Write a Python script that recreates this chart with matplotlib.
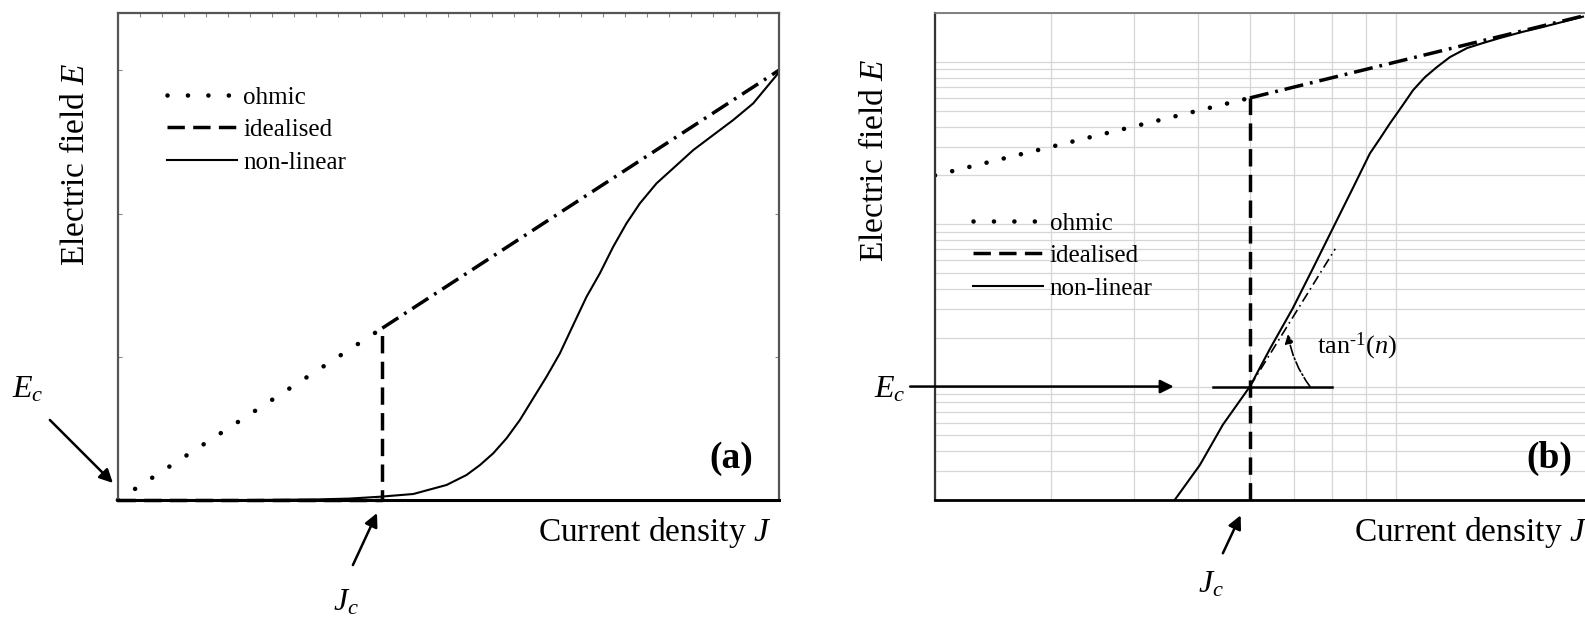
import numpy as np
import matplotlib
matplotlib.use("Agg")
import matplotlib.pyplot as plt
from matplotlib import ticker

plt.rcParams['font.family'] = ['Liberation Serif', 'DejaVu Serif']
plt.rcParams['mathtext.fontset'] = 'custom'
plt.rcParams['mathtext.rm'] = 'Liberation Serif'
plt.rcParams['mathtext.it'] = 'Liberation Serif:italic'
plt.rcParams['mathtext.bf'] = 'Liberation Serif:bold'

# ---- panel (a): linear axes ----
ohm_j_a = [0.0, 4.0]
ohm_e_a = [0.0, 1.2]
ohm_hi_j_a = [4.0, 10.0]
ohm_hi_e_a = [1.2, 3.0]
ideal_j_a = [0.0, 4.0, 4.0]
ideal_e_a = [0.0, 0.0, 1.2]
nl_j_a = [0.0, 1.0, 2.0, 3.0, 3.5, 3.964, 4.468, 4.972, 5.275, 5.477, 5.678,
          5.880, 6.082, 6.283, 6.485, 6.687, 6.888, 7.090, 7.292, 7.493, 7.695,
          7.897, 8.149, 8.401, 8.704, 9.006, 9.309, 9.611, 9.989]
nl_e_a = [0.0, 0.0, 0.0, 0.004, 0.01, 0.023, 0.042, 0.105, 0.175, 0.244, 0.326,
          0.431, 0.559, 0.710, 0.861, 1.024, 1.222, 1.419, 1.583, 1.768, 1.932,
          2.071, 2.211, 2.316, 2.443, 2.548, 2.653, 2.769, 2.979]

# ---- panel (b): log-log axes ----
ohm_j_b = [2.0, 6.0]
ohm_e_b = [20.0, 60.0]
ohm_hi_j_b = [6.0, 20.0]
ohm_hi_e_b = [60.0, 200.0]
ideal_j_b = [6.0, 6.0]
ideal_e_b = [0.2, 60.0]
nl_j_b = [4.59, 5.04, 5.46, 6.0, 6.44, 6.97, 7.48, 8.02, 8.60, 9.12, 9.45, 9.78,
          10.20, 10.60, 11.05, 11.52, 12.06, 12.80, 13.53, 14.36, 15.51, 16.68,
          19.18]
nl_e_b = [0.194, 0.329, 0.582, 1.0, 1.718, 3.04, 5.37, 9.50, 16.8, 27.3, 33.8,
          41.8, 53.3, 66.9, 80.5, 92.9, 107.1, 121.7, 130.7, 140.4, 152.9, 164.2,
          190.0]
ec_line_j = [5.27, 8.0]
ec_line_e = [1.0, 1.0]
tan_j = [6.0, 8.08]
tan_e = [1.0, 7.05]

labels = ['ohmic', 'idealised', 'non-linear']

DOT = dict(color='k', lw=3.3, linestyle=(0, (0.01, 4.45)), dash_capstyle='round')
DOT_B = dict(color='k', lw=3.3, linestyle=(0, (0.01, 3.85)), dash_capstyle='round')
DASH = dict(color='k', lw=2.5, linestyle=(0, (5.0, 2.4)))
DASHDOT = dict(color='k', lw=2.5, linestyle=(0, (5.5, 2.0, 0.8, 2.0)))
SOLID = dict(color='k', lw=1.5)
ARROW = dict(arrowstyle='-|>', color='k', lw=1.8, mutation_scale=20,
             shrinkA=0, shrinkB=0)

fig = plt.figure(figsize=(15.85, 6.18), dpi=100)
ax_a = fig.add_axes([0.0744, 0.1909, 0.417, 0.788])
ax_b = fig.add_axes([0.5899, 0.1909, 0.4164, 0.788])

# panel (a)
h_ohm, = ax_a.plot(ohm_j_a, ohm_e_a, clip_on=False, **DOT)
ax_a.plot(ohm_hi_j_a, ohm_hi_e_a, clip_on=False, **DASHDOT)
h_ideal, = ax_a.plot(ideal_j_a, ideal_e_a, clip_on=False, **DASH)
h_nl, = ax_a.plot(nl_j_a, nl_e_a, clip_on=False, **SOLID)
ax_a.set_xlim(0, 10)
ax_a.set_ylim(0, 3.4)
ax_a.xaxis.set_ticks_position('top')
ax_a.xaxis.set_major_locator(ticker.MultipleLocator(1 / 3))
ax_a.set_yticks([1, 2, 3])
ax_a.tick_params(direction='in', length=3, width=0.8, color='#888888',
                 top=True, bottom=False, left=True, right=True,
                 labeltop=False, labelbottom=False, labelleft=False)
for s in ['left', 'top', 'right']:
    ax_a.spines[s].set_color('#555555')
    ax_a.spines[s].set_linewidth(1.6)
ax_a.spines['bottom'].set_color('k')
ax_a.spines['bottom'].set_linewidth(2.2)

ax_a.legend([h_ohm, h_ideal, h_nl], labels, loc='upper left',
            bbox_to_anchor=(0.074, 0.85), frameon=False, fontsize=18,
            handlelength=2.8, handletextpad=0.25, labelspacing=0.4,
            borderpad=0, borderaxespad=0)
ax_a.text(-0.0635, 0.69, 'Electric field $E$', rotation=90, fontsize=24,
          ha='center', va='center', transform=ax_a.transAxes)
ax_a.text(0.988, -0.084, 'Current density $J$', fontsize=24,
          ha='right', va='baseline', transform=ax_a.transAxes)
ax_a.text(0.961, 0.086, '(a)', fontsize=27, fontweight='bold',
          ha='right', va='center', transform=ax_a.transAxes)
ax_a.text(-1.60, 0.719, '$E_c$', fontsize=23, ha='left', va='baseline')
ax_a.text(3.25, -0.768, '$J_c$', fontsize=23, ha='left', va='baseline')
ax_a.annotate('', xy=(-0.076, 0.119), xytext=(-1.03, 0.559),
              arrowprops=ARROW, annotation_clip=False)
ax_a.annotate('', xy=(3.92, -0.091), xytext=(3.555, -0.454),
              arrowprops=ARROW, annotation_clip=False)

# panel (b)
ax_b.set_xscale('log')
ax_b.set_yscale('log')
ax_b.set_xlim(2, 20)
ax_b.set_ylim(0.2, 200)
sub = np.arange(2, 10)
ax_b.xaxis.set_minor_locator(ticker.LogLocator(base=10, subs=sub, numticks=20))
ax_b.yaxis.set_minor_locator(ticker.LogLocator(base=10, subs=sub, numticks=20))
ax_b.grid(True, which='both', color='#d6d6d6', lw=0.9)
ax_b.set_axisbelow(True)
ax_b.tick_params(which='both', length=0, labelbottom=False, labelleft=False)
ax_b.spines['left'].set_color('#333333')
ax_b.spines['left'].set_linewidth(1.6)
ax_b.spines['top'].set_color('#777777')
ax_b.spines['top'].set_linewidth(1.3)
ax_b.spines['bottom'].set_color('k')
ax_b.spines['bottom'].set_linewidth(2.0)

hb_ohm, = ax_b.plot(ohm_j_b, ohm_e_b, **DOT_B)
ax_b.plot(ohm_hi_j_b, ohm_hi_e_b, **DASHDOT)
hb_ideal, = ax_b.plot(ideal_j_b, ideal_e_b, **DASH)
hb_nl, = ax_b.plot(nl_j_b, nl_e_b, **SOLID)
ax_b.plot(ec_line_j, ec_line_e, color='k', lw=1.8)
ax_b.plot(tan_j, tan_e, color='k', lw=1.2, linestyle=(0, (6, 2.5, 1, 2.5)))
ax_b.annotate('', xy=(6.85, 2.1), xytext=(7.4, 1.0),
              arrowprops=dict(arrowstyle='-|>', color='k', lw=1.2,
                              linestyle='-.', mutation_scale=13,
                              shrinkA=0, shrinkB=0,
                              connectionstyle='arc3,rad=-0.12'))
ax_b.text(7.58, 1.77, r'tan$^{\text{-1}}$($n$)', fontsize=19,
          ha='left', va='center')

ax_b.legend([h_ohm, hb_ideal, hb_nl], labels, loc='upper left',
            bbox_to_anchor=(0.058, 0.591), frameon=False, fontsize=18,
            handlelength=2.8, handletextpad=0.25, labelspacing=0.4,
            borderpad=0, borderaxespad=0)
ax_b.text(-0.092, 0.698, 'Electric field $E$', rotation=90, fontsize=24,
          ha='center', va='center', transform=ax_b.transAxes)
ax_b.text(0.988, -0.084, 'Current density $J$', fontsize=24,
          ha='right', va='baseline', transform=ax_b.transAxes)
ax_b.text(0.965, 0.086, '(b)', fontsize=27, fontweight='bold',
          ha='right', va='center', transform=ax_b.transAxes)
ax_b.text(1.617, 0.855, '$E_c$', fontsize=23, ha='left', va='baseline')
ax_b.text(5.0, 0.0538, '$J_c$', fontsize=23, ha='left', va='baseline')
ax_b.annotate('', xy=(4.60, 1.0), xytext=(1.834, 1.0),
              arrowprops=ARROW, annotation_clip=False)
ax_b.annotate('', xy=(5.81, 0.161), xytext=(5.46, 0.094),
              arrowprops=ARROW, annotation_clip=False)

fig.savefig('out.png', dpi=100)
